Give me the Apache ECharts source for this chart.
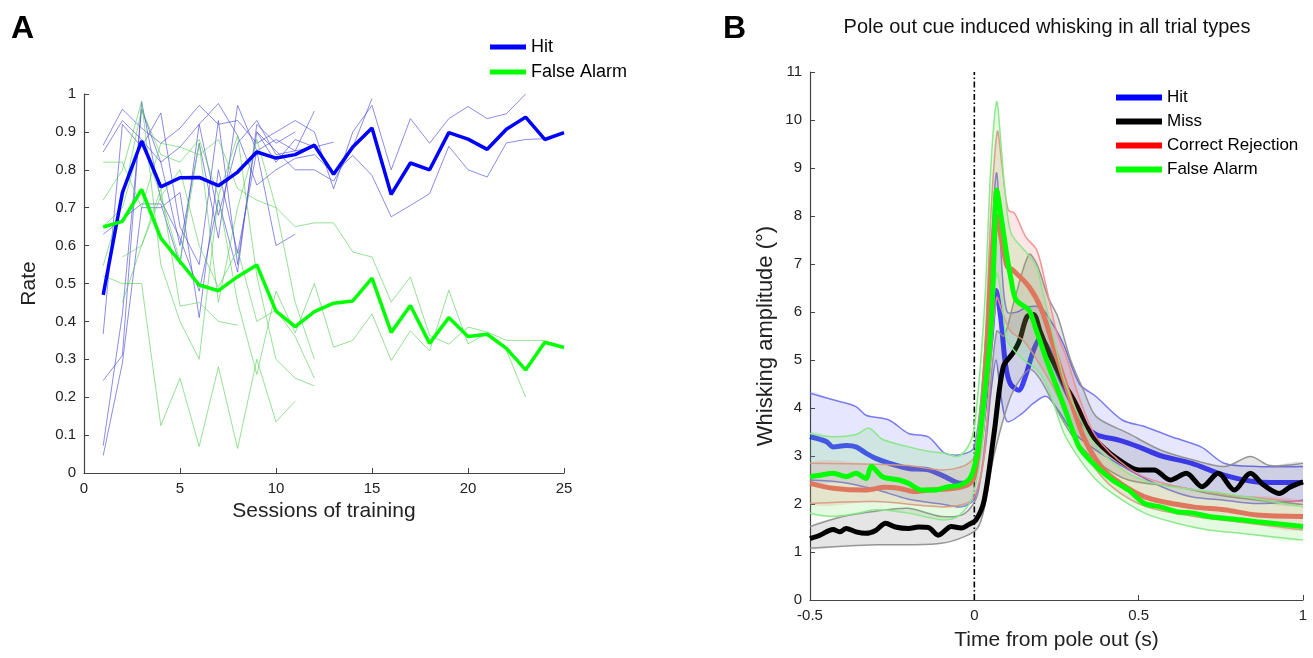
<!DOCTYPE html>
<html>
<head>
<meta charset="utf-8">
<script src="https://cdn.jsdelivr.net/npm/echarts@6/dist/echarts.min.js"></script>
<style>
  html, body { margin: 0; padding: 0; background: #fff; }
  #chart { width: 1313px; height: 658px; }
</style>
</head>
<body>
<div id="chart"></div>
<script>
// ---------- panel A: rate per training session ----------
const sessionTicks = [0, 5, 10, 15, 20, 25]
const rateTicks = [0, 0.1, 0.2, 0.3, 0.4, 0.5, 0.6, 0.7, 0.8, 0.9, 1]

// group means (session 1..25)
const hitRate = [0.47, 0.74, 0.876, 0.755, 0.779, 0.78, 0.758, 0.794, 0.847, 0.831, 0.84, 0.865, 0.788, 0.86, 0.91, 0.735, 0.818, 0.80, 0.898, 0.881, 0.854, 0.907, 0.939, 0.88, 0.898]
const faRate = [0.649, 0.664, 0.748, 0.62, 0.558, 0.496, 0.481, 0.518, 0.549, 0.427, 0.386, 0.426, 0.448, 0.454, 0.514, 0.371, 0.442, 0.342, 0.41, 0.36, 0.366, 0.329, 0.272, 0.345, 0.331]

// individual animals (session 1..n, null = no session)
const hitAnimal1 = [0.865, 0.96, 0.91, 0.87, 0.91, 0.97, 0.92, 0.93, 0.87, 0.90, 0.93, 0.90, 0.75, 0.90, 0.97, 0.80, 0.935, 0.87, 0.935, 0.967, 0.935, 0.948, 1.0]
const hitAnimal2 = [0.847, 0.93, 0.88, 0.82, 0.86, 0.92, 0.975, 0.89, 0.76, 0.80, 0.83, 0.84, 0.79, 0.838, 0.785, 0.676, 0.706, 0.737, 0.862, 0.80, 0.781, 0.871, 0.88, 0.882]
const hitAnimal3 = [0.367, 0.92, 0.86, 0.95, 0.65, 0.55, 0.93, 0.55, 0.90, 0.82, 0.88, 0.86, 0.873]
const hitAnimal4 = [0.244, 0.31, 0.98, 0.72, 0.62, 0.48, 0.72, 0.53, 0.92, 0.87, 0.90]
const hitAnimal5 = [0.072, 0.42, 0.96, 0.82, 0.60, 0.87, 0.62, 0.97, 0.85, 0.60, 0.63]
const hitAnimal6 = [0.046, 0.29, 0.70, 0.70, 0.74, 0.41, 0.80, 0.58, 0.85, 0.88, 0.85, 0.86]
const hitAnimal7 = [0.63, 0.67, 0.71, 0.71, 0.55, 0.92, 0.68, 0.87, 0.93, 0.84, 0.85, 0.955]
const hitAnimal8 = [null, null, null, null, null, null, null, null, 0.90, 0.85, 0.80, 0.80, 0.77, 0.86, 0.988]

const faAnimal1 = [0.82, 0.82, 0.70, 0.87, 0.86, 0.84, 0.88, 0.75, 0.72, 0.70, 0.65, 0.66, 0.66, 0.583, 0.57, 0.451, 0.517, 0.363, 0.34, 0.385, 0.372, 0.35, 0.35, 0.35]
const faAnimal2 = [0.72, 0.80, 0.98, 0.55, 0.40, 0.30, 0.73, 0.45, 0.26, 0.48, 0.37, 0.50, 0.332, 0.35, 0.42, 0.297, 0.375, 0.322, 0.482, 0.341, 0.368, 0.324, 0.20]
const faAnimal3 = [0.547, 0.72, 0.96, 0.84, 0.82, 0.88, 0.73, 0.89, 0.52, 0.30, 0.25, 0.23]
const faAnimal4 = [0.52, 0.50, 0.50, 0.125, 0.25, 0.07, 0.28, 0.065, 0.30, 0.135, 0.19]
const faAnimal5 = [null, 0.45, 0.60, 0.75, 0.44, 0.45, 0.40, 0.39]
const faAnimal6 = [0.65, 0.70, 0.88, 0.73, 0.56, 0.87, 0.45, 0.70, 0.88, 0.70, 0.45, 0.30]
const faAnimal7 = [null, 0.57, 0.60, 0.73, 0.80, 0.60, 0.49, 0.59, 0.40, 0.43, 0.36, 0.25]

// ---------- panel B: whisking amplitude, [time (s), amplitude (deg)] ----------
const hitMean = [[-0.5,3.40],[-0.45,3.30],[-0.43,3.19],[-0.39,3.22],[-0.36,3.19],[-0.33,3.06],[-0.3,2.95],[-0.26,2.85],[-0.2,2.74],[-0.14,2.71],[-0.09,2.57],[-0.04,2.43],[-0.01,2.5],[0.01,2.9],[0.03,4.0],[0.05,5.4],[0.066,6.45],[0.08,5.9],[0.095,4.9],[0.11,4.5],[0.135,4.37],[0.155,4.65],[0.18,5.2],[0.2,5.45],[0.22,5.3],[0.25,4.8],[0.29,4.2],[0.33,3.7],[0.37,3.45],[0.44,3.33],[0.5,3.19],[0.57,3.0],[0.66,2.85],[0.76,2.6],[0.86,2.46],[0.92,2.45],[1.0,2.45]]
const hitHi = [[-0.5,4.31],[-0.43,4.17],[-0.36,4.03],[-0.33,3.85],[-0.26,3.75],[-0.2,3.47],[-0.14,3.40],[-0.09,3.06],[-0.04,3.03],[0,3.19],[0.03,5.0],[0.05,7.2],[0.068,8.9],[0.085,6.8],[0.1,6.0],[0.13,6.0],[0.16,6.1],[0.2,6.1],[0.225,5.9],[0.27,5.35],[0.32,4.5],[0.37,4.24],[0.45,3.75],[0.52,3.61],[0.6,3.40],[0.69,3.19],[0.76,2.85],[0.86,2.78],[1.0,2.78]]
const hitLo = [[-0.5,2.5],[-0.4,2.45],[-0.3,2.3],[-0.2,2.1],[-0.1,2.0],[-0.04,1.94],[0,2.1],[0.03,3.0],[0.05,4.3],[0.066,5.0],[0.08,4.3],[0.1,3.72],[0.146,3.89],[0.18,4.1],[0.22,4.24],[0.26,3.9],[0.3,3.5],[0.37,3.12],[0.47,2.71],[0.57,2.36],[0.66,2.15],[0.76,2.08],[0.86,2.01],[1.0,2.08]]

const missMean = [[-0.5,1.28],[-0.47,1.35],[-0.43,1.47],[-0.41,1.42],[-0.39,1.49],[-0.36,1.42],[-0.33,1.39],[-0.3,1.45],[-0.27,1.60],[-0.24,1.52],[-0.2,1.49],[-0.17,1.52],[-0.14,1.51],[-0.11,1.35],[-0.07,1.53],[-0.04,1.50],[-0.02,1.56],[0.005,1.67],[0.03,2.08],[0.06,3.47],[0.088,4.86],[0.117,5.14],[0.137,5.4],[0.16,5.9],[0.18,5.95],[0.2,5.6],[0.23,5.1],[0.254,4.79],[0.273,4.51],[0.3,4.2],[0.313,4.03],[0.347,3.54],[0.39,3.19],[0.44,2.92],[0.5,2.71],[0.547,2.71],[0.596,2.5],[0.645,2.64],[0.693,2.36],[0.742,2.64],[0.791,2.29],[0.84,2.64],[0.879,2.4],[0.928,2.22],[0.96,2.35],[1.0,2.46]]
const missHi = [[-0.5,1.53],[-0.4,1.74],[-0.3,1.85],[-0.2,1.91],[-0.1,1.74],[-0.03,1.8],[0.01,2.2],[0.04,3.8],[0.068,5.6],[0.09,5.5],[0.12,6.2],[0.166,7.2],[0.19,7.0],[0.225,6.3],[0.254,5.9],[0.293,5.0],[0.332,4.375],[0.371,3.82],[0.469,3.47],[0.566,3.125],[0.664,2.92],[0.762,2.78],[0.84,2.99],[0.9,2.8],[1.0,2.85]]
const missLo = [[-0.5,1.08],[-0.4,1.12],[-0.3,1.15],[-0.2,1.15],[-0.1,1.18],[-0.03,1.32],[0.01,1.5],[0.03,1.9],[0.059,2.99],[0.107,4.17],[0.14,4.6],[0.17,4.8],[0.2,4.6],[0.24,4.1],[0.3,3.4],[0.37,2.9],[0.469,2.5],[0.615,2.36],[0.713,2.22],[0.81,2.12],[1.0,1.99]]

const crMean = [[-0.5,2.43],[-0.43,2.33],[-0.33,2.29],[-0.27,2.35],[-0.23,2.33],[-0.185,2.26],[-0.14,2.29],[-0.06,2.33],[-0.02,2.4],[0,2.57],[0.02,3.5],[0.04,5.5],[0.055,7.3],[0.068,8.0],[0.08,7.6],[0.1,6.95],[0.117,6.875],[0.166,6.53],[0.205,6.04],[0.244,5.21],[0.283,4.375],[0.332,3.40],[0.371,2.92],[0.42,2.55],[0.518,2.15],[0.664,1.94],[0.76,1.88],[0.86,1.77],[1.0,1.74]]
const crHi = [[-0.5,2.85],[-0.3,2.83],[-0.2,2.8],[-0.1,2.71],[-0.03,2.8],[0,2.99],[0.03,5.0],[0.05,8.0],[0.07,9.76],[0.085,9.0],[0.103,8.125],[0.122,8.06],[0.156,7.57],[0.19,7.29],[0.214,6.67],[0.25,5.6],[0.283,5.0],[0.32,4.2],[0.371,3.4],[0.469,2.75],[0.566,2.45],[0.762,2.2],[1.0,2.05]]
const crLo = [[-0.5,2.01],[-0.3,2.05],[-0.1,1.94],[-0.03,2.0],[0,2.15],[0.03,3.0],[0.05,5.0],[0.068,6.3],[0.085,6.0],[0.11,5.6],[0.15,5.4],[0.2,4.9],[0.25,4.3],[0.3,3.5],[0.35,2.9],[0.42,2.35],[0.52,1.95],[0.66,1.75],[0.81,1.62],[1.0,1.46]]

const faMean = [[-0.5,2.57],[-0.47,2.6],[-0.43,2.64],[-0.39,2.57],[-0.36,2.64],[-0.33,2.53],[-0.313,2.78],[-0.28,2.57],[-0.23,2.5],[-0.2,2.43],[-0.16,2.29],[-0.12,2.29],[-0.08,2.36],[-0.04,2.40],[-0.01,2.57],[0.01,3.1],[0.03,4.2],[0.05,5.6],[0.06,7.2],[0.068,8.54],[0.083,7.92],[0.098,7.22],[0.112,6.67],[0.127,6.25],[0.166,6.04],[0.185,5.69],[0.225,4.9],[0.264,4.2],[0.303,3.45],[0.322,3.15],[0.371,2.78],[0.42,2.5],[0.469,2.29],[0.518,2.01],[0.566,1.94],[0.615,1.84],[0.665,1.81],[0.713,1.74],[0.81,1.67],[0.86,1.63],[1.0,1.53]]
const faHi = [[-0.5,3.47],[-0.43,3.40],[-0.36,3.45],[-0.32,3.58],[-0.28,3.35],[-0.2,3.19],[-0.14,3.1],[-0.09,3.06],[-0.05,2.99],[-0.02,3.19],[0,3.61],[0.03,6.0],[0.05,9.0],[0.068,10.38],[0.08,9.6],[0.093,8.54],[0.112,7.64],[0.161,7.22],[0.19,6.94],[0.2,6.67],[0.24,5.5],[0.273,4.6],[0.32,3.8],[0.371,3.2],[0.469,2.64],[0.566,2.4],[0.762,2.22],[1.0,1.94]]
const faLo = [[-0.5,1.81],[-0.43,1.74],[-0.36,1.8],[-0.3,1.88],[-0.2,1.81],[-0.1,1.67],[-0.05,1.74],[-0.01,2.08],[0.02,3.0],[0.045,5.0],[0.068,6.8],[0.085,6.2],[0.1,5.4],[0.15,5.0],[0.19,4.8],[0.225,4.4],[0.273,3.47],[0.322,2.92],[0.371,2.5],[0.42,2.22],[0.518,1.81],[0.615,1.60],[0.713,1.46],[0.81,1.39],[1.0,1.25]]

const poleOut = [[0, 0], [0, 11]]

const FONT = '"Liberation Sans", Arial, Helvetica, sans-serif'

// session index -> [session, value]
function bySession(vals) {
  return vals.map((v, i) => (v == null ? null : [i + 1, v])).filter(Boolean)
}

function thinLine(vals, color) {
  return {
    type: 'line', xAxisIndex: 0, yAxisIndex: 0, silent: true,
    data: bySession(vals), showSymbol: false, z: 2,
    lineStyle: { width: 1, color: color },
  }
}

// shaded error band: filled polygon between hi and lo plus the two edge lines
function band(hi, lo, fill, edge, z) {
  return {
    type: 'custom', xAxisIndex: 1, yAxisIndex: 1, silent: true, z: z,
    data: [[0, 0]],
    renderItem: (params, api) => {
      const top = hi.map(p => api.coord(p))
      const bot = lo.map(p => api.coord(p))
      const cs = params.coordSys
      return {
        type: 'group',
        clipPath: { type: 'rect', shape: { x: cs.x, y: cs.y, width: cs.width, height: cs.height } },
        children: [
          { type: 'polygon', shape: { points: top.concat(bot.slice().reverse()), smooth: 0.3 }, style: { fill: fill } },
          { type: 'polyline', shape: { points: top, smooth: 0.3 }, style: { stroke: edge, lineWidth: 1.5, fill: null } },
          { type: 'polyline', shape: { points: bot, smooth: 0.3 }, style: { stroke: edge, lineWidth: 1.5, fill: null } },
        ],
      }
    },
  }
}

function meanLine(name, data, color, legendColor, z, opacity) {
  return {
    type: 'line', name: name, xAxisIndex: 1, yAxisIndex: 1, silent: true,
    data: data, showSymbol: false, smooth: 0.3, z: z,
    itemStyle: { color: legendColor },
    lineStyle: { width: 5, color: color, opacity: opacity == null ? 1 : opacity },
  }
}

const THIN_BLUE = 'rgba(70,70,215,0.62)'
const THIN_GREEN = 'rgba(80,205,80,0.6)'

const axisCommon = {
  axisLine: { onZero: false, lineStyle: { color: '#444', width: 1.2 } },
  axisTick: { inside: true, length: 5, lineStyle: { color: '#444' } },
  axisLabel: { color: '#222', fontSize: 15, fontFamily: FONT },
  splitLine: { show: false },
  nameTextStyle: { color: '#222', fontSize: 21, fontFamily: FONT },
}

const chart = echarts.init(document.getElementById('chart'), null, { renderer: 'canvas' })
chart.setOption({
  animation: false,
  backgroundColor: '#fff',
  graphic: [
    { type: 'text', x: 11, y: 13, style: { text: 'A', font: 'bold 32px ' + FONT, fill: '#000' } },
    { type: 'text', x: 723, y: 13, style: { text: 'B', font: 'bold 32px ' + FONT, fill: '#000' } },
    { type: 'text', x: 1047, y: 17, style: { text: 'Pole out cue induced whisking in all trial types', font: '20px ' + FONT, fill: '#111', textAlign: 'center' } },
  ],
  legend: [
    {
      left: 485, top: 33, orient: 'vertical', icon: 'rect', itemWidth: 36, itemHeight: 5, itemGap: 7,
      textStyle: { fontSize: 18, fontFamily: FONT, color: '#000' },
      data: [
        { name: 'Hit', itemStyle: { color: '#0000ff' } },
        { name: 'False Alarm', itemStyle: { color: '#00ff00' } },
      ],
    },
    {
      left: 1111, top: 84, orient: 'vertical', icon: 'rect', itemWidth: 46, itemHeight: 6, itemGap: 7,
      textStyle: { fontSize: 17, fontFamily: FONT, color: '#000' },
      data: [
        { name: 'Hit', itemStyle: { color: '#0000ff' } },
        { name: 'Miss', itemStyle: { color: '#000000' } },
        { name: 'Correct Rejection', itemStyle: { color: '#ff0000' } },
        { name: 'False Alarm', itemStyle: { color: '#00ff00' } },
      ],
    },
  ],
  grid: [
    { left: 84, top: 94, width: 480, height: 379 },
    { left: 810, top: 72, width: 493, height: 528 },
  ],
  xAxis: [
    Object.assign({}, axisCommon, {
      type: 'value', gridIndex: 0, min: sessionTicks[0], max: sessionTicks[sessionTicks.length - 1], interval: 5,
      name: 'Sessions of training', nameLocation: 'middle', nameGap: 25,
    }),
    Object.assign({}, axisCommon, {
      type: 'value', gridIndex: 1, min: -0.5, max: 1, interval: 0.5,
      name: 'Time from pole out (s)', nameLocation: 'middle', nameGap: 30,
    }),
  ],
  yAxis: [
    Object.assign({}, axisCommon, {
      type: 'value', gridIndex: 0, min: rateTicks[0], max: rateTicks[rateTicks.length - 1], interval: 0.1,
      name: 'Rate', nameLocation: 'middle', nameGap: 44,
    }),
    Object.assign({}, axisCommon, {
      type: 'value', gridIndex: 1, min: 0, max: 11, interval: 1,
      name: 'Whisking amplitude (°)', nameLocation: 'middle', nameGap: 33,
      nameTextStyle: { color: '#222', fontSize: 22, fontFamily: FONT },
    }),
  ],
  series: [
    // panel A, individual animals
    thinLine(hitAnimal1, THIN_BLUE), thinLine(hitAnimal2, THIN_BLUE), thinLine(hitAnimal3, THIN_BLUE),
    thinLine(hitAnimal4, THIN_BLUE), thinLine(hitAnimal5, THIN_BLUE), thinLine(hitAnimal6, THIN_BLUE),
    thinLine(hitAnimal7, THIN_BLUE), thinLine(hitAnimal8, THIN_BLUE),
    thinLine(faAnimal1, THIN_GREEN), thinLine(faAnimal2, THIN_GREEN), thinLine(faAnimal3, THIN_GREEN),
    thinLine(faAnimal4, THIN_GREEN), thinLine(faAnimal5, THIN_GREEN), thinLine(faAnimal6, THIN_GREEN),
    thinLine(faAnimal7, THIN_GREEN),
    // panel A, means
    {
      type: 'line', name: 'Hit', xAxisIndex: 0, yAxisIndex: 0, data: bySession(hitRate), showSymbol: false, z: 4,
      itemStyle: { color: '#0000ff' }, lineStyle: { width: 3.5, color: '#0000ff' },
    },
    {
      type: 'line', name: 'False Alarm', xAxisIndex: 0, yAxisIndex: 0, data: bySession(faRate), showSymbol: false, z: 4,
      itemStyle: { color: '#00ff00' }, lineStyle: { width: 3.5, color: '#00ff00' },
    },
    // panel B, pole out marker
    {
      type: 'line', xAxisIndex: 1, yAxisIndex: 1, data: poleOut, showSymbol: false, silent: true, z: 1,
      lineStyle: { color: '#000', width: 1.6, type: [6, 2.5, 1.5, 2.5] },
    },
    // panel B, bands and means in drawing order
    band(hitHi, hitLo, 'rgba(60,60,255,0.13)', 'rgba(110,110,240,0.9)', 2),
    meanLine('Hit', hitMean, '#0000ff', '#0000ff', 3, 0.72),
    band(missHi, missLo, 'rgba(0,0,0,0.10)', 'rgba(140,140,140,0.9)', 4),
    meanLine('Miss', missMean, '#000000', '#000000', 5),
    band(crHi, crLo, 'rgba(255,80,80,0.14)', 'rgba(240,140,140,0.9)', 6),
    meanLine('Correct Rejection', crMean, '#fa6464', '#ff0000', 7),
    band(faHi, faLo, 'rgba(90,225,70,0.16)', 'rgba(135,232,135,0.95)', 8),
    meanLine('False Alarm', faMean, '#00ff00', '#00ff00', 9),
  ],
})
</script>
</body>
</html>
